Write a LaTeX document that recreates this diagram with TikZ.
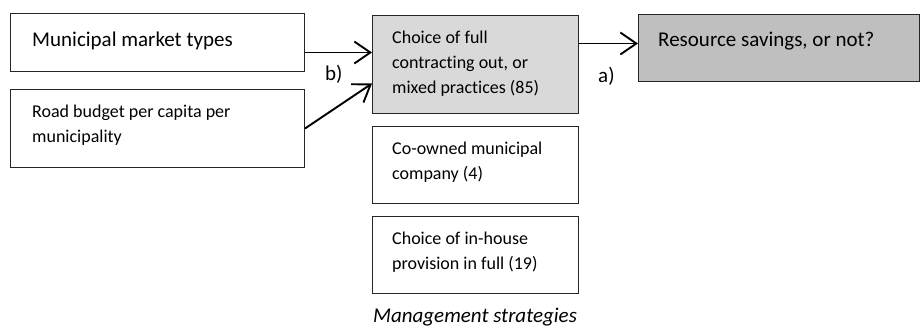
\documentclass[tikz,border=0pt]{standalone}
\usepackage{fontspec}
\setmainfont{Carlito}[Ligatures=NoCommon]
\usetikzlibrary{arrows.meta, positioning}

\definecolor{lightbox}{HTML}{D9D9D9}
\definecolor{darkbox}{HTML}{BFBFBF}

\begin{document}
\begin{tikzpicture}[
  x=1pt, y=-1pt,
  box/.style={
    rectangle,
    draw=black!85,
    line width=1pt,
    inner sep=0pt
  },
  txt/.style={
    anchor=base west,
    inner sep=0pt,
    align=left,
    font=\fontsize{18}{25}\selectfont
  },
  bigtxt/.style={
    anchor=base west,
    inner sep=0pt,
    font=\fontsize{21}{26}\selectfont
  },
  arrow/.style={-{Straight Barb[length=16pt, width=22pt]}, line width=1.9pt}
]
\useasboundingbox (0,0) rectangle (920,325);

% boxes
\node[box, anchor=north west, minimum width=294pt, minimum height=58pt] (market) at (10,13) {};
\node[box, below=17pt of market, minimum width=294pt, minimum height=78pt] (budget) {};
\node[box, anchor=north west, fill=lightbox, minimum width=206pt, minimum height=98pt] (mixed) at (372,15) {};
\node[box, below=12pt of mixed, minimum width=206pt, minimum height=77pt] (coowned) {};
\node[box, below=12pt of coowned, minimum width=206pt, minimum height=77pt] (inhouse) {};
\node[box, anchor=north west, fill=darkbox, minimum width=281pt, minimum height=67pt] (savings) at (638,14) {};

% texts (base = last line)
\node[bigtxt] (market-t) at ([shift={(22,33)}]market.north west) {Municipal market types};
\node[txt] (budget-t) at ([shift={(22,53)}]budget.north west) {Road budget per capita per\\municipality};
\node[txt] (mixed-t) at ([shift={(20,78)}]mixed.north west) {Choice of full\\contracting out, or\\mixed practices (85)};
\node[txt] (coowned-t) at ([shift={(20,53)}]coowned.north west) {Co-owned municipal\\company (4)};
\node[txt] (inhouse-t) at ([shift={(20,53)}]inhouse.north west) {Choice of in-house\\provision in full (19)};
\node[bigtxt] (savings-t) at ([shift={(20,32)}]savings.north west) {Resource savings, or not?};
\node[bigtxt, anchor=base, font=\fontsize{21}{26}\selectfont\itshape] (caption) at (475,322) {Management strategies};

% labels
\node[bigtxt] (lab-b) at (325,80) {b)};
\node[bigtxt] (lab-a) at (598,82) {a)};

% arrows
\draw[arrow] ([yshift=-10pt]market.east) -- ([yshift=12pt]mixed.west);
\draw[arrow] (budget.east) -- ([yshift=-19pt]mixed.west);
\draw[arrow] ([yshift=21pt]mixed.east) -- ([yshift=4.5pt]savings.west);

\end{tikzpicture}
\end{document}
